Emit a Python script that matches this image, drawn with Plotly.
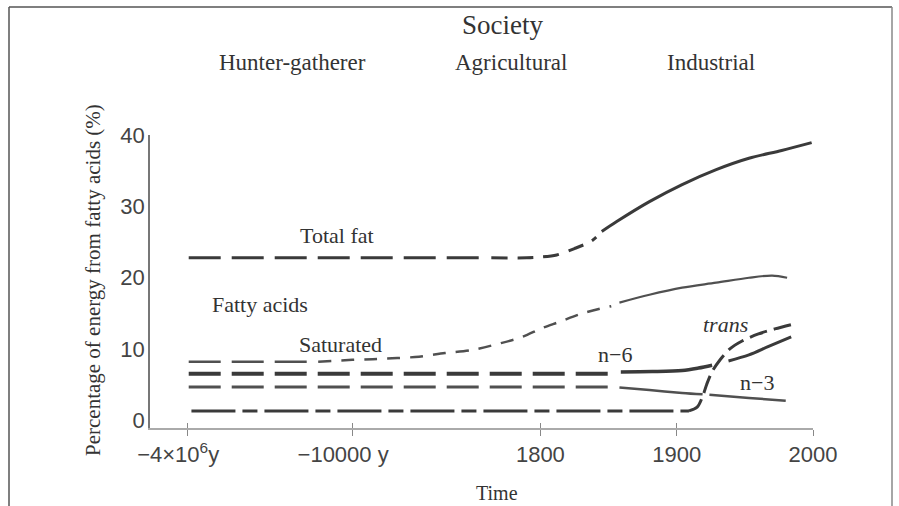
import plotly.graph_objects as go

# ---------------- data (x in axis units: real years for 1800-2000, compressed before) -------------
TICK_POS = [1541, 1662, 1800, 1900, 2000]
TICK_TEXT = ["\u22124\u00d710<sup>6</sup>y\u00a0\u00a0\u00a0", "\u221210000 y\u00a0\u00a0\u00a0", "1800", "1900", "2000"]
Y_TICKS = [0, 10, 20, 30, 40]

# Total fat
TF_FLAT_X = [1542, 1759]
TF_FLAT_Y = [22.8, 22.8]
TF_RISE_X = [1764, 1790, 1800, 1812, 1825, 1837, 1841]
TF_RISE_Y = [22.8, 22.8, 22.9, 23.2, 24.1, 25.1, 25.7]
TF_SOLID_X = [1845, 1856, 1880, 1904, 1929, 1953, 1977, 1999]
TF_SOLID_Y = [26.5, 27.9, 30.7, 33.1, 35.2, 36.8, 37.9, 39.0]

# Saturated
SAT_A_X = [1542, 1633]
SAT_A_Y = [8.2, 8.2]
SAT_B_X = [1637, 1662, 1677, 1695, 1711, 1730, 1750, 1771, 1787, 1801, 1814, 1831, 1852]
SAT_B_Y = [8.2, 8.45, 8.55, 8.7, 8.9, 9.4, 9.85, 10.8, 11.7, 12.9, 13.8, 15.0, 16.0]
SAT_C_X = [1858, 1880, 1904, 1929, 1953, 1970, 1981]
SAT_C_Y = [16.5, 17.6, 18.6, 19.3, 20.0, 20.3, 20.0]

# n-6
N6_A_X = [1542, 1852]
N6_A_Y = [6.5, 6.5]
N6_B_X = [1859, 1882, 1904, 1916, 1926]
N6_B_Y = [6.75, 6.8, 6.95, 7.3, 7.7]
N6_C_X = [1938, 1953, 1967, 1984]
N6_C_Y = [8.3, 9.15, 10.3, 11.7]

# n-3
N3_A_X = [1542, 1852]
N3_A_Y = [4.65, 4.65]
N3_B_X = [1858, 1880, 1904, 1919]
N3_B_Y = [4.55, 4.2, 3.8, 3.6]
N3_C_X = [1924, 1953, 1980]
N3_C_Y = [3.55, 3.1, 2.7]

# trans
TR_A_X = [1544, 1909]
TR_A_Y = [1.27, 1.27]
TR_B_X = [1909, 1915, 1919, 1922, 1926, 1932, 1939, 1948, 1960, 1972, 1986]
TR_B_Y = [1.27, 1.8, 3.3, 5.0, 6.8, 8.5, 10.0, 11.1, 12.1, 12.8, 13.5]

# ---------------- layout constants -------------
W, H = 899, 506
L, R, T, B = 150, 86, 135, 78
PW, PH = W - L - R, H - T - B
X_RANGE = [1513.6, 2000]
Y_RANGE = [-1.13, 40.07]

SERIF = "Liberation Serif"
SANS = "Liberation Sans"
INK = "#3a3a3a"
LIGHT = "#505050"


def px(x):
    return (x - L) / PW


def py(y):
    return (H - B - y) / PH


fig = go.Figure()


def add(x, y, width, color, dash="solid", spline=False):
    fig.add_trace(go.Scatter(
        x=x, y=y, mode="lines",
        line=dict(color=color, width=width, dash=dash,
                  shape="spline" if spline else "linear", smoothing=0.9),
        hoverinfo="skip", showlegend=False))


LONG = "32px,11px"
add(TF_FLAT_X, TF_FLAT_Y, 3, INK, LONG)
add(TF_RISE_X, TF_RISE_Y, 3, INK, "16px,10px", True)
add(TF_SOLID_X, TF_SOLID_Y, 3, INK, "solid", True)

add(SAT_A_X, SAT_A_Y, 2.5, LIGHT, LONG)
add(SAT_B_X, SAT_B_Y, 2.5, LIGHT, "13px,10px", True)
add(SAT_C_X, SAT_C_Y, 2.2, LIGHT, "solid", True)

add(N6_A_X, N6_A_Y, 4, INK, LONG)
add(N6_B_X, N6_B_Y, 3.5, INK, "solid", True)
add(N6_C_X, N6_C_Y, 3, INK, "solid", True)

add(N3_A_X, N3_A_Y, 3, LIGHT, LONG)
add(N3_B_X, N3_B_Y, 2.5, LIGHT, "solid", True)
add(N3_C_X, N3_C_Y, 2.5, LIGHT, "solid", True)

add(TR_A_X, TR_A_Y, 3, INK, "44px,7px,15px,7px")
add(TR_B_X, TR_B_Y, 3, INK, "18px,7px", True)

# dummy trace to activate overlay axis for inner tick halves
fig.add_trace(go.Scatter(x=[X_RANGE[0]], y=[Y_RANGE[0]], xaxis="x2", mode="markers",
                         marker=dict(opacity=0), hoverinfo="skip", showlegend=False))

labels = [
    ("Total fat", 1651, 25.9, False),
    ("Fatty acids", 1594, 16.3, False),
    ("Saturated", 1653, 10.55, False),
    ("n\u22126", 1855, 9.15, False),
    ("n\u22123", 1959, 5.2, False),
    ("trans", 1935.5, 13.4, True),
]
ann = []
for text, x, y, it in labels:
    ann.append(dict(x=x, y=y, xref="x", yref="y", text=f"<i>{text}</i>" if it else text,
                    showarrow=False, font=dict(family=SERIF, size=22, color="#333"),
                    xanchor="center", yanchor="middle"))

top = [("Society", 502, 25, 27), ("Hunter-gatherer", 292, 62, 23),
       ("Agricultural", 511, 62, 23), ("Industrial", 711, 62, 23),
       ("Time", 497, 493, 20)]
for text, x, y, s in top:
    ann.append(dict(x=px(x), y=py(y), xref="paper", yref="paper", text=text,
                    showarrow=False, font=dict(family=SERIF, size=s, color="#333"),
                    xanchor="center", yanchor="middle"))

ann.append(dict(x=px(93), y=py(280), xref="paper", yref="paper",
                text="Percentage of energy from fatty acids (%)", textangle=-90,
                showarrow=False, font=dict(family=SERIF, size=21, color="#333"),
                xanchor="center", yanchor="middle"))

shapes = [
    dict(type="line", xref="paper", yref="paper", x0=px(9), x1=px(892), y0=py(7), y1=py(7),
         line=dict(color="#555", width=1.5)),
    dict(type="line", xref="paper", yref="paper", x0=px(9), x1=px(9), y0=py(7), y1=py(515),
         line=dict(color="#555", width=1.5)),
    dict(type="line", xref="paper", yref="paper", x0=px(892), x1=px(892), y0=py(7), y1=py(515),
         line=dict(color="#888", width=1.5)),
]

fig.update_layout(
    width=W, height=H,
    margin=dict(l=L, r=R, t=T, b=B),
    paper_bgcolor="white", plot_bgcolor="white",
    showlegend=False,
    annotations=ann, shapes=shapes,
    xaxis=dict(range=X_RANGE, tickvals=TICK_POS, ticktext=TICK_TEXT,
               showline=True, linecolor="#aaa", linewidth=1.5,
               ticks="outside", ticklen=6, tickcolor="#888", tickwidth=1.2,
               showgrid=False, zeroline=False,
               tickfont=dict(family=SANS, size=22, color="#444")),
    xaxis2=dict(range=X_RANGE, overlaying="x", anchor="y", side="bottom",
                tickvals=TICK_POS, showticklabels=False,
                ticks="inside", ticklen=5, tickcolor="#888", tickwidth=1.2,
                showline=False, showgrid=False, zeroline=False),
    yaxis=dict(range=Y_RANGE, tickvals=Y_TICKS, showline=True, linecolor="#777",
               linewidth=1.5, ticks="", showgrid=False, zeroline=False,
               ticklabelstandoff=-1,
               tickfont=dict(family=SANS, size=22, color="#444")),
)

fig.write_html("out.html", config={"displayModeBar": False},
               post_script="document.body.style.margin='0px';document.body.style.overflow='hidden';")
